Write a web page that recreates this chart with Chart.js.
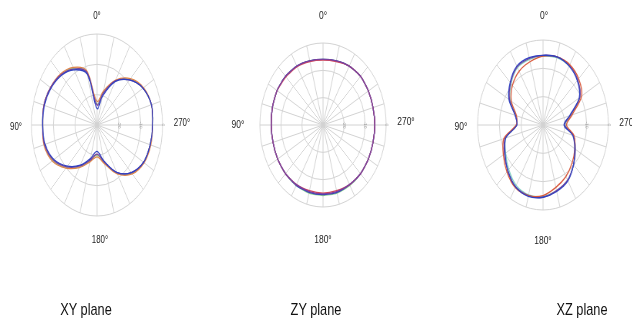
<!DOCTYPE html>
<html>
<head>
<meta charset="utf-8">
<script src="https://cdn.jsdelivr.net/npm/chart.js@4.4.1/dist/chart.umd.min.js"></script>
<style>
  html, body { margin:0; padding:0; background:#fff; }
  body { width:632px; height:323px; overflow:hidden; position:relative; font-family:"Liberation Sans", Arial, sans-serif; }
  .plot { position:absolute; top:0; width:0; height:323px; transform-origin:0 0; }
  .plot canvas { position:absolute; }
  .lab { position:absolute; font-size:11px; color:#222; transform:translate(-50%,-50%); white-space:nowrap; }
  .titles { position:absolute; left:0; top:0; width:843px; height:323px; transform:scaleX(0.75); transform-origin:0 0; }
  .ttl { position:absolute; font-size:17px; color:#111; transform:translate(-50%,-50%); white-space:nowrap; }
</style>
</head>
<body>
<div class="plot" id="p1"><canvas id="c1"></canvas></div>
<div class="plot" id="p2"><canvas id="c2"></canvas></div>
<div class="plot" id="p3"><canvas id="c3"></canvas></div>
<div class="titles" id="titles"></div>
<script>
// ---- data (angles counter-clockwise from top, 0° up, 90° left) ----
const angles = [0,15,30,45,60,75,90,105,120,135,150,165,180,195,210,225,240,255,270,285,300,315,330,345];
const ringTicks = [-30,-20,-10,0];           // dB rings
const angleLabels = ['0°','90°','180°','270°'];
const planeTitles = ['XY plane','ZY plane','XZ plane'];
const colBlue = '#2f40c0', colPurple = '#7b3f9e', colOrange = '#e0844a', colGreen = '#8fd08f';

// XY plane (dB)
const xyGreen  = [-23.1,-12.0,-8.4,-6.6,-5.4,-4.8,-5.1,-5.1,-6.6,-10.2,-14.1,-17.7,-20.1,-17.1,-11.7,-7.5,-5.4,-4.8,-4.5,-4.2,-5.7,-8.7,-13.2,-18.9];
const xyOrange = [-22.2,-11.4,-8.1,-6.3,-5.4,-4.8,-5.1,-4.8,-6.3,-9.9,-13.8,-17.4,-19.5,-16.8,-11.4,-7.2,-5.1,-4.5,-4.5,-4.2,-5.4,-8.4,-12.9,-18.3];
const xyPurple = [-23.4,-12.0,-8.7,-6.6,-5.4,-4.8,-5.1,-5.1,-6.9,-10.5,-14.4,-18.0,-20.4,-17.4,-12.0,-7.8,-5.4,-4.8,-4.5,-4.2,-5.7,-9.0,-13.2,-19.2];
const xyBlue   = [-24.6,-12.6,-9.0,-6.9,-5.7,-5.1,-5.1,-5.4,-7.2,-10.8,-14.7,-18.6,-21.3,-17.7,-12.0,-7.8,-5.4,-4.8,-4.5,-4.2,-5.7,-9.0,-13.5,-20.1];

// ZY plane (dB)
const zyGreen  = [-6.0,-5.7,-5.1,-4.8,-4.8,-5.1,-5.4,-5.4,-5.1,-4.8,-4.5,-4.2,-4.2,-4.2,-4.5,-4.8,-5.1,-5.4,-5.4,-5.4,-5.1,-4.8,-5.1,-5.7];
const zyOrange = [-6.3,-6.0,-5.4,-5.1,-4.8,-5.1,-5.4,-5.4,-5.1,-4.8,-4.8,-5.1,-5.1,-5.1,-4.8,-4.8,-5.1,-5.4,-5.4,-5.4,-5.1,-4.8,-5.1,-6.0];
const zyPurple = [-6.0,-5.7,-5.1,-4.8,-4.8,-5.1,-5.4,-5.4,-5.1,-4.8,-4.8,-4.8,-4.8,-4.8,-4.8,-4.8,-5.1,-5.4,-5.4,-5.4,-5.1,-4.8,-5.1,-5.7];
const zyBlue   = [-6.0,-5.7,-5.1,-4.8,-4.8,-5.1,-5.4,-5.4,-5.1,-4.8,-4.5,-4.5,-4.5,-4.5,-4.8,-4.8,-5.1,-5.4,-5.4,-5.4,-5.1,-4.8,-5.1,-5.7];

// XZ plane (dB)
const xzGreen  = [-5.7,-6.0,-6.6,-9.3,-12.6,-17.1,-18.0,-12.3,-10.2,-7.8,-5.4,-4.5,-4.8,-6.0,-7.5,-10.2,-12.9,-15.6,-19.8,-16.8,-10.5,-7.5,-6.0,-5.4];
const xzOrange = [-5.7,-6.9,-8.1,-10.2,-13.2,-17.4,-17.7,-11.4,-9.0,-6.6,-4.5,-4.2,-5.1,-7.2,-9.0,-11.1,-13.2,-15.3,-19.2,-16.2,-9.6,-6.9,-5.4,-5.1];
const xzPurple = [-5.4,-5.7,-6.3,-9.0,-12.3,-16.8,-18.0,-12.0,-9.6,-7.2,-4.8,-4.2,-4.5,-6.0,-7.5,-10.2,-12.9,-15.6,-20.1,-17.1,-10.5,-7.5,-5.7,-5.1];
const xzBlue   = [-5.4,-5.4,-6.0,-8.7,-12.0,-16.8,-18.0,-12.3,-9.9,-7.2,-4.8,-3.9,-4.5,-5.7,-7.2,-10.2,-13.2,-15.9,-20.4,-17.4,-10.8,-7.8,-6.0,-5.1];

// ---- layout (first series is drawn on top) ----
const plots = [
  { id:'c1', wrap:'p1', cx:97,  cy:125, R:96, sx:0.72, tension:0.35,
    series:[[xyBlue,colBlue],[xyPurple,colPurple],[xyOrange,colOrange],[xyGreen,colGreen]],
    labs:[[97,15],[16,126],[100,239],[182,122]] },
  { id:'c2', wrap:'p2', cx:323, cy:125, R:87, sx:0.77, tension:0.2,
    series:[[zyPurple,colPurple],[zyOrange,'#d4485a'],[zyBlue,colBlue],[zyGreen,colGreen]],
    labs:[[323,15],[238,124],[323,239],[406,121]] },
  { id:'c3', wrap:'p3', cx:543, cy:125, R:90, sx:0.77, tension:0.3,
    series:[[xzBlue,colBlue],[xzOrange,'#d9583a'],[xzPurple,colPurple],[xzGreen,'#7fd0c0']],
    labs:[[544,15],[461,126],[543,240],[628,122]] }
];
const titlePos = [[86,310],[316,310],[582,310]];

// radar runs clockwise from the 3 o'clock position (startAngle 90)
const cwAngles = angles.map((_, k) => (270 - 15 * k + 360) % 360);
const spokeLabels = cwAngles.map(a => a + '°');
function reorder(arr) { return cwAngles.map(a => arr[angles.indexOf(a)]); }

plots.forEach(p => {
  const wrap = document.getElementById(p.wrap);
  wrap.style.left = p.cx + 'px';
  wrap.style.transform = 'scaleX(' + p.sx + ')';
  const cv = document.getElementById(p.id);
  const size = 2 * p.R + 4;
  cv.width = size; cv.height = size;
  cv.style.width = size + 'px'; cv.style.height = size + 'px';
  cv.style.left = (-size / 2) + 'px';
  cv.style.top = (p.cy - size / 2) + 'px';
  p.labs.forEach((pos, i) => {
    const s = document.createElement('span');
    s.className = 'lab';
    s.textContent = angleLabels[i];
    s.style.left = ((pos[0] - p.cx) / p.sx) + 'px';
    s.style.top = pos[1] + 'px';
    wrap.appendChild(s);
  });
  new Chart(cv, {
    type: 'radar',
    data: {
      labels: spokeLabels,
      datasets: p.series.map(([vals, col]) => ({
        data: reorder(vals),
        borderColor: col,
        borderWidth: 1.3,
        pointRadius: 0,
        pointHitRadius: 0,
        fill: false,
        tension: p.tension
      }))
    },
    options: {
      responsive: false,
      animation: false,
      layout: { padding: 2 },
      plugins: { legend: { display: false }, tooltip: { enabled: false } },
      scales: {
        r: {
          min: ringTicks[0], max: ringTicks[ringTicks.length - 1],
          startAngle: 90,
          afterBuildTicks: s => { s.ticks = ringTicks.map(v => ({ value: v })); },
          ticks: { display: true, font: { size: 5 }, color: '#999', showLabelBackdrop: false,
                   callback: v => (v === ringTicks[0] ? '' : String(v)) },
          grid: { circular: true, color: '#d2d2d2', lineWidth: 1 },
          angleLines: { color: '#d2d2d2', lineWidth: 1 },
          pointLabels: { display: false }
        }
      }
    }
  });
});

const tw = document.getElementById('titles');
planeTitles.forEach((t, i) => {
  const s = document.createElement('span');
  s.className = 'ttl';
  s.textContent = t;
  s.style.left = (titlePos[i][0] / 0.75) + 'px';
  s.style.top = titlePos[i][1] + 'px';
  tw.appendChild(s);
});
</script>
</body>
</html>
